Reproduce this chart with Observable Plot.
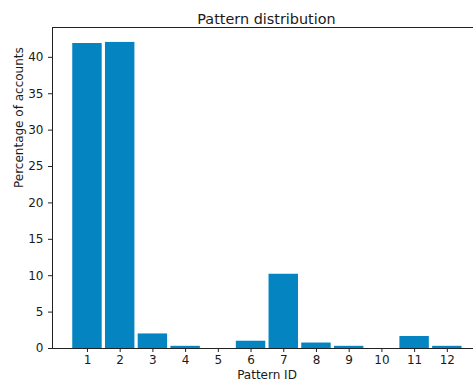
<!DOCTYPE html>
<html>
<head>
<meta charset="utf-8">
<script src="https://cdn.jsdelivr.net/npm/d3@7"></script>
<script src="https://cdn.jsdelivr.net/npm/@observablehq/plot@0.6"></script>
<style>
  html, body { margin: 0; padding: 0; background: white; }
  #chart { width: 473px; height: 388px; overflow: hidden; }
</style>
</head>
<body>
<div id="chart"></div>
<script>
const patternIds = [1, 2, 3, 4, 5, 6, 7, 8, 9, 10, 11, 12];
const percentages = [41.9, 42.05, 2.0, 0.3, 0, 1.0, 10.2, 0.75, 0.3, 0, 1.65, 0.3];
const yTicks = [0, 5, 10, 15, 20, 25, 30, 35, 40];
const title = "Pattern distribution";
const xLabel = "Pattern ID";
const yLabel = "Percentage of accounts";

const data = patternIds.map((id, i) => ({id, value: percentages[i]}));
const xMin = -0.069, xMax = 12.8, yMax = 44.1;
const barColor = "#0485c2";
const font = "DejaVu Sans, sans-serif";

const chart = Plot.plot({
  width: 473,
  height: 388,
  marginLeft: 52,
  marginRight: 0,
  marginTop: 27,
  marginBottom: 40,
  style: {fontFamily: font, background: "white", color: "#1a1a1a"},
  x: {type: "linear", domain: [xMin, xMax]},
  y: {domain: [0, yMax]},
  marks: [
    Plot.rectY(data, {x1: d => d.id - 0.45, x2: d => d.id + 0.45, y1: 0, y2: "value", fill: barColor}),
    Plot.axisY({ticks: yTicks, tickSize: 4, tickPadding: 5, fontSize: 12, label: null, stroke: "#222", fill: "#1a1a1a"}),
    Plot.axisX({ticks: patternIds, tickFormat: d => String(d), tickSize: 4, tickPadding: 3, fontSize: 12, label: null, stroke: "#222", fill: "#1a1a1a"}),
    Plot.ruleY([0, yMax], {stroke: "#222", strokeWidth: 1}),
    Plot.ruleX([xMin], {stroke: "#222", strokeWidth: 1}),
    Plot.text([title], {frameAnchor: "top", dy: -14, dx: 3.5, fontSize: 14.4, fill: "#1a1a1a"}),
    Plot.text([xLabel], {frameAnchor: "bottom", dy: 30.5, dx: 4, fontSize: 12, fill: "#1a1a1a"}),
    Plot.text([yLabel], {frameAnchor: "left", dx: -33, rotate: -90, fontSize: 12, fill: "#1a1a1a"})
  ]
});
document.getElementById("chart").appendChild(chart);
</script>
</body>
</html>
